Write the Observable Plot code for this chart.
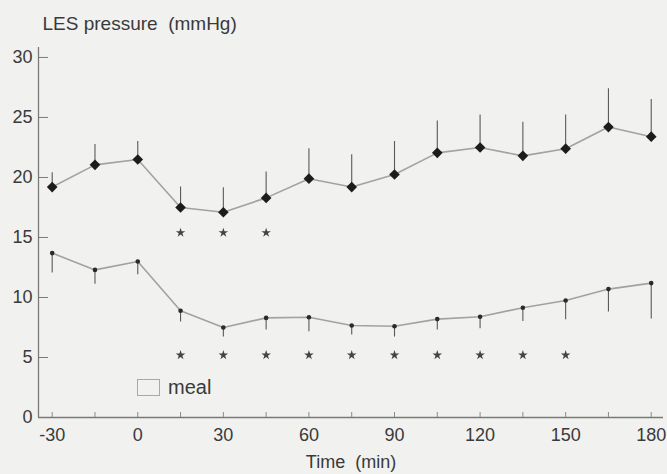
<!DOCTYPE html>
<html><head><meta charset="utf-8">
<script src="https://cdn.jsdelivr.net/npm/d3@7"></script>
<script src="https://cdn.jsdelivr.net/npm/@observablehq/plot@0.6"></script>
<style>
html,body{margin:0;padding:0;background:#f1f1ef;}
#chart{position:relative;width:667px;height:474px;}
.legend{position:absolute;left:137px;top:376px;display:flex;align-items:center;font-family:"Liberation Sans",Arial,sans-serif;font-size:20px;color:#3a3a3a;}
.legend .box{width:23px;height:17px;border:1.5px solid #a8a8a8;box-sizing:border-box;margin-right:8px;}
</style></head><body><div id="chart"></div>
<script>
// Time points (min)
const times = [-30,-15,0,15,30,45,60,75,90,105,120,135,150,165,180];
// Upper series (diamonds): mean and upward error
const upperMean = [19.2,21.05,21.5,17.5,17.1,18.3,19.9,19.2,20.25,22.05,22.5,21.8,22.4,24.2,23.4];
const upperErr  = [1.2,1.7,1.5,1.7,2.05,2.15,2.5,2.7,2.75,2.65,2.7,2.8,2.8,3.2,3.1];
// Lower series (small dots): mean and downward error
const lowerMean = [13.7,12.3,13.0,8.9,7.5,8.3,8.35,7.67,7.6,8.2,8.4,9.15,9.75,10.7,11.2];
const lowerErr  = [1.65,1.2,1.1,0.95,0.8,1.0,1.2,0.8,0.9,0.9,1.0,1.15,1.6,1.9,3.0];
// Significance stars
const upperStarTimes = [15,30,45];
const upperStarLevel = 15.4;
const lowerStarTimes = [15,30,45,60,75,90,105,120,135,150];
const lowerStarLevel = 5.2;
// Axes
const xTicks = [-30,-15,0,15,30,45,60,75,90,105,120,135,150,165,180];
const yTicks = [0,5,10,15,20,25,30];
const xDomain = [-34.8,184.3];
const yDomain = [0,30.83];
const yTitle = "LES pressure\u00a0 (mmHg)";
const xTitle = "Time\u00a0 (min)";
const legendLabel = "meal";

const upper = times.map((t,i)=>({t, mean: upperMean[i], err: upperErr[i]}));
const lower = times.map((t,i)=>({t, mean: lowerMean[i], err: lowerErr[i]}));
const upperStars = upperStarTimes.map(t=>({t, v: upperStarLevel}));
const lowerStars = lowerStarTimes.map(t=>({t, v: lowerStarLevel}));

const font = "Liberation Sans, Arial, Helvetica, sans-serif";
const textColor = "#3a3a3a";

const chart = Plot.plot({
  width: 667, height: 474,
  marginLeft: 38, marginRight: 4, marginTop: 47, marginBottom: 57,
  style: {background: "transparent", fontFamily: font, color: textColor},
  x: {domain: xDomain},
  y: {domain: yDomain},
  marks: [
    Plot.ruleY([yDomain[0]], {stroke: "#7a7a7a", strokeWidth: 1.3}),
    Plot.ruleX([xDomain[0]], {stroke: "#7a7a7a", strokeWidth: 1.3}),
    Plot.axisY(yTicks, {anchor: "left", tickSize: -10, tickPadding: 16, fontSize: 18, label: null, stroke: "#7a7a7a", fill: textColor}),
    Plot.axisX(xTicks, {anchor: "bottom", tickSize: -5, tickPadding: 16, fontSize: 18, label: null, stroke: "#8a8a8a", fill: textColor,
      tickFormat: t => (t % 30 === 0 ? String(t) : "")}),
    // error bars
    Plot.ruleX(upper, {x: "t", y1: "mean", y2: d => d.mean + d.err, stroke: "#5a5a5a", strokeWidth: 1.1}),
    Plot.ruleX(lower, {x: "t", y1: "mean", y2: d => d.mean - d.err, stroke: "#5a5a5a", strokeWidth: 1.1}),
    // lines
    Plot.line(upper, {x: "t", y: "mean", stroke: "#a2a2a2", strokeWidth: 1.6}),
    Plot.line(lower, {x: "t", y: "mean", stroke: "#a2a2a2", strokeWidth: 1.6}),
    // markers
    Plot.dot(upper, {x: "t", y: "mean", symbol: "diamond2", r: 4.8, fill: "#1c1c1c", stroke: "none"}),
    Plot.dot(lower, {x: "t", y: "mean", r: 2.3, fill: "#2a2a2a", stroke: "none"}),
    // stars
    Plot.dot(upperStars, {x: "t", y: "v", symbol: "star", r: 3, fill: "#444", stroke: "none"}),
    Plot.dot(lowerStars, {x: "t", y: "v", symbol: "star", r: 3, fill: "#444", stroke: "none"}),
    // titles
    Plot.text([yTitle], {frameAnchor: "top-left", textAnchor: "start", lineAnchor: "bottom", dx: 4, dy: -18, fontSize: 19, fill: textColor}),
    Plot.text([xTitle], {frameAnchor: "bottom", textAnchor: "middle", lineAnchor: "bottom", dy: 50, fontSize: 18, fill: textColor})
  ]
});

const container = document.getElementById("chart");
container.appendChild(chart);
const legend = document.createElement("div");
legend.className = "legend";
legend.innerHTML = `<span class="box"></span><span>${legendLabel}</span>`;
container.appendChild(legend);
</script>
</body></html>
